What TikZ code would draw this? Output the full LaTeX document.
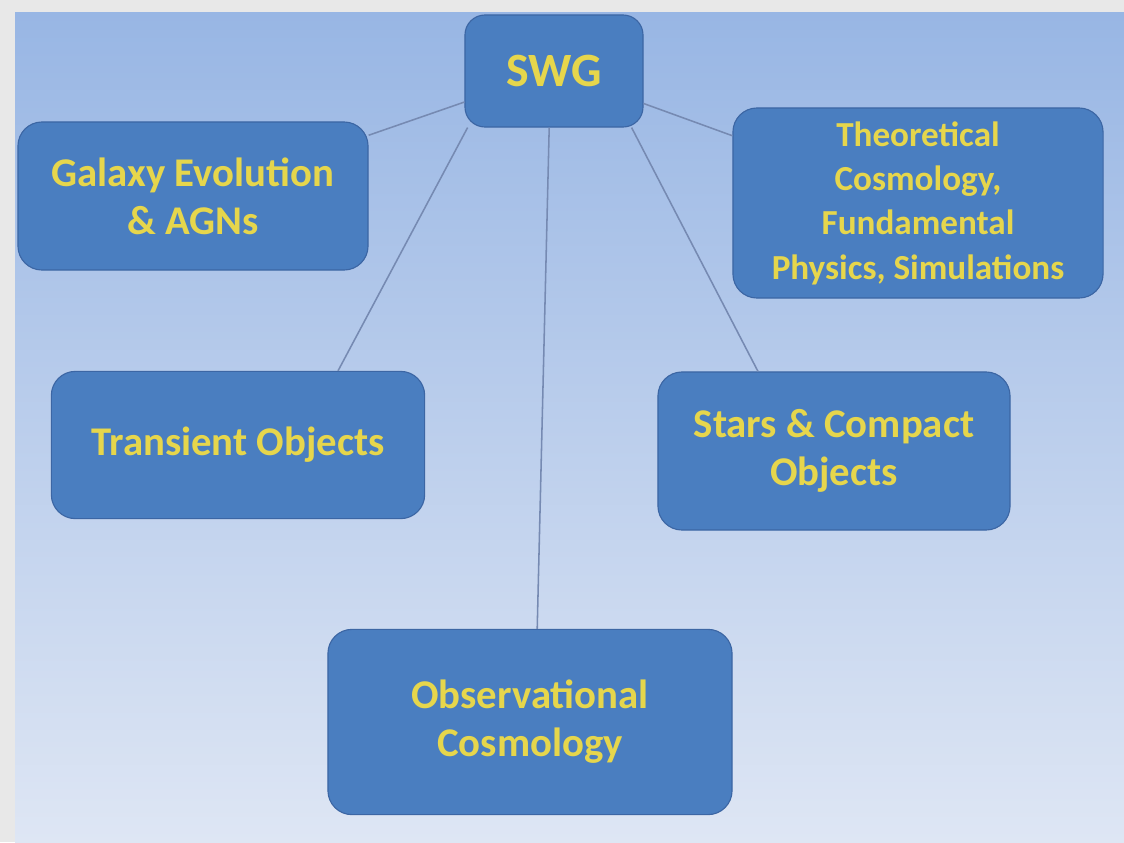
\documentclass[tikz,border=0pt]{standalone}
\usepackage{fontspec}
\setmainfont{Carlito}
\usepackage{tikz}
\definecolor{boxblue}{RGB}{74,126,192}
\definecolor{boxline}{RGB}{60,102,164}
\definecolor{textyellow}{RGB}{230,214,76}
\definecolor{linkgray}{RGB}{118,138,178}
\definecolor{topblue}{RGB}{152,182,228}
\definecolor{bottomblue}{RGB}{222,230,244}
\definecolor{frame}{RGB}{232,232,232}
\tikzset{
  box/.style={draw=boxline, line width=0.8pt, fill=boxblue, rounded corners=0.6cm,
    align=center, text=textyellow, font=\bfseries\fontsize{29}{34}\selectfont, inner sep=0pt},
  link/.style={draw=linkgray, line width=1.1pt}
}

\begin{document}
\begin{tikzpicture}[x=0.025cm, y=-0.025cm]
      \useasboundingbox (0,0) rectangle (1124,842);
      \fill[frame] (0,0) rectangle (1124,842);
      \shade[top color=topblue, bottom color=bottomblue] (15,12) rectangle (1124,842);
      % boxes
      \node[box, rounded corners=0.5cm, minimum width=4.45cm, minimum height=2.8cm, font=\bfseries\fontsize{34}{40}\selectfont] (swg) at (554,71) {SWG};
      \node[box, minimum width=8.75cm, minimum height=3.7cm] (galaxy) at (193,196) {Galaxy Evolution\\ \& AGNs};
      \node[box, minimum width=9.25cm, minimum height=4.75cm, font=\bfseries\fontsize{25}{31.5}\selectfont] (theory) at (918,203) {Theoretical\\ Cosmology,\\ Fundamental\\ Physics, Simulations};
      \node[box, minimum width=9.33cm, minimum height=3.68cm] (transient) at (238,445) {\raisebox{0.2cm}{Transient Objects}};
      \node[box, minimum width=8.8cm, minimum height=3.95cm] (stars) at (834,451) {Stars \& Compact\\ Objects};
      \node[box, minimum width=10.1cm, minimum height=4.63cm] (obs) at (530,722) {Observational\\ Cosmology};
      % links
      \draw[link] (swg) -- (galaxy);
      \draw[link] (swg) -- (theory);
      \draw[link] ([xshift=0.08cm]swg.south west) -- ([xshift=2.5cm]transient.north);
      \draw[link] ([xshift=-0.3cm]swg.south east) -- ([xshift=-1.9cm]stars.north);
      \draw[link] ([xshift=-0.12cm]swg.south) -- ([xshift=0.18cm]obs.north);
    \end{tikzpicture}
\end{document}
